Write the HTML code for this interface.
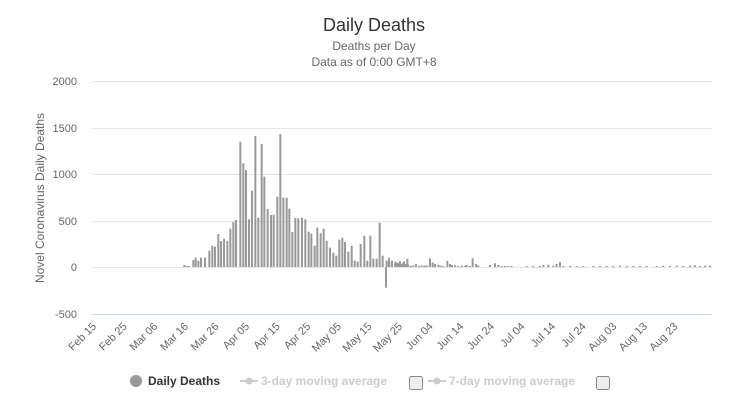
<!DOCTYPE html>
<html><head><meta charset="utf-8"><style>
body{margin:0;background:#fff;}
svg{display:block;font-family:"Liberation Sans",sans-serif;}
</style></head><body>
<svg id="s" width="749" height="417" viewBox="0 0 749 417" xmlns="http://www.w3.org/2000/svg">
<text x="374" y="31" text-anchor="middle" font-size="18" fill="#333">Daily Deaths</text>
<text x="374" y="50" text-anchor="middle" font-size="12" fill="#666">Deaths per Day</text>
<text x="374" y="66" text-anchor="middle" font-size="12" fill="#666">Data as of 0:00 GMT+8</text>
<g stroke="#e6e6e6" stroke-width="1">
<line x1="92" x2="712" y1="81.5" y2="81.5"/>
<line x1="92" x2="712" y1="128.5" y2="128.5"/>
<line x1="92" x2="712" y1="174.5" y2="174.5"/>
<line x1="92" x2="712" y1="221.5" y2="221.5"/>
<line x1="92" x2="712" y1="267.5" y2="267.5"/>
</g>
<line x1="92" x2="712" y1="314.5" y2="314.5" stroke="#ccd6eb"/>
<g font-size="11" fill="#666" text-anchor="end">
<text x="77" y="85">2000</text>
<text x="77" y="132">1500</text>
<text x="77" y="178">1000</text>
<text x="77" y="225">500</text>
<text x="77" y="271">0</text>
<text x="77" y="318">-500</text>
</g>
<text transform="translate(44,198) rotate(-90)" text-anchor="middle" font-size="12" fill="#666">Novel Coronavirus Daily Deaths</text>
<g id="xl" font-size="11" fill="#666" text-anchor="end"></g>
<g id="bars" fill="#999"></g>
<g font-size="12" font-weight="bold">
<circle cx="136" cy="381" r="6" fill="#999"/>
<text x="148" y="385" fill="#333">Daily Deaths</text>
<line x1="240" x2="258" y1="381" y2="381" stroke="#ccc" stroke-width="2"/>
<circle cx="249" cy="381" r="3.5" fill="#ccc"/>
<text x="261" y="385" fill="#ccc">3-day moving average</text>
<rect x="409.5" y="376.5" width="13" height="13" rx="2" fill="#eee" stroke="#888"/>
<line x1="428" x2="446" y1="381" y2="381" stroke="#ccc" stroke-width="2"/>
<circle cx="437" cy="381" r="3.5" fill="#ccc"/>
<text x="449" y="385" fill="#ccc">7-day moving average</text>
<rect x="596.5" y="376.5" width="13" height="13" rx="2" fill="#eee" stroke="#888"/>
</g>
</svg>
<script>
var NS="http://www.w3.org/2000/svg";
var labels=["Feb 15","Feb 25","Mar 06","Mar 16","Mar 26","Apr 05","Apr 15","Apr 25","May 05","May 15","May 25","Jun 04","Jun 14","Jun 24","Jul 04","Jul 14","Jul 24","Aug 03","Aug 13","Aug 23"];
var xl=document.getElementById("xl");
labels.forEach(function(l,i){var x=97+i*30.6;var t=document.createElementNS(NS,"text");t.setAttribute("transform","translate("+x+",327) rotate(-45)");t.textContent=l;xl.appendChild(t);});
var tops=[[313,435],[320,438],[327,438],[340,420],[347,413],[355,422],[363,413],[375,413],[388,392],[397,378],[405,380],[415,342],[423,363],[432,356],[442,363],[451,326],[460,306],[468,300],[481,65],[490,130],[498,150],[507,298],[516,212],[526,48],[535,293],[545,72],[553,170],[563,267],[573,285],[581,284],[592,230],[601,42],[610,233],[620,233],[628,266],[637,336],[646,294],[655,295],[666,293],[676,298],[686,335],[694,341],[704,377],[712,323],[722,340],[731,326],[740,362],[750,383],[760,398],[769,407],[778,359],[787,353],[795,366],[805,395],[815,377],[824,422],[833,425],[842,372],[853,347],[862,422],[871,347],[880,416],[890,416],[899,308],[908,407],[918,503],[927,413],[936,422],[946,425],[955,430],[963,432],[972,424],[982,416]];
var g=document.getElementById("bars");
function bar(x,y0,y1){var r=document.createElementNS(NS,"rect");r.setAttribute("x",x);r.setAttribute("y",Math.min(y0,y1));r.setAttribute("width",2);r.setAttribute("height",Math.max(0.6,Math.abs(y1-y0)));g.appendChild(r);}
tops.forEach(function(p){var x=80+p[0]/3;var y=120+p[1]/3;bar(x-1,y,267);});
var small=[[20,62],[28,67],[36,70],[45,73],[52,68],[60,64],[68,70],[77,72],[85,74],[93,78],[100,76],[108,72],[117,78],[125,76],[133,77],[140,76],[150,55],[158,67],[165,72],[175,75],[182,77],[190,78],[202,63],[210,72],[216,75],[225,76],[235,78],[245,77],[255,78],[260,75],[270,78],[278,55],[288,72],[295,76],[330,75],[345,70],[355,75],[365,78],[375,78],[385,78],[395,78],[440,78],[460,78],[480,78],[490,75],[505,74],[520,77],[530,72],[540,66],[550,78],[570,78],[590,78],[610,78],[640,78],[660,78],[680,78],[700,78],[720,77],[740,78],[760,78],[780,78],[800,78],[830,78],[850,77],[870,78],[890,77],[910,78],[930,77],[945,76],[960,78],[975,77],[990,77]];
small.forEach(function(p){var x=380+p[0]/3;var y=240+p[1]/3;bar(x-1,y,267);});
</script>
</body></html>
